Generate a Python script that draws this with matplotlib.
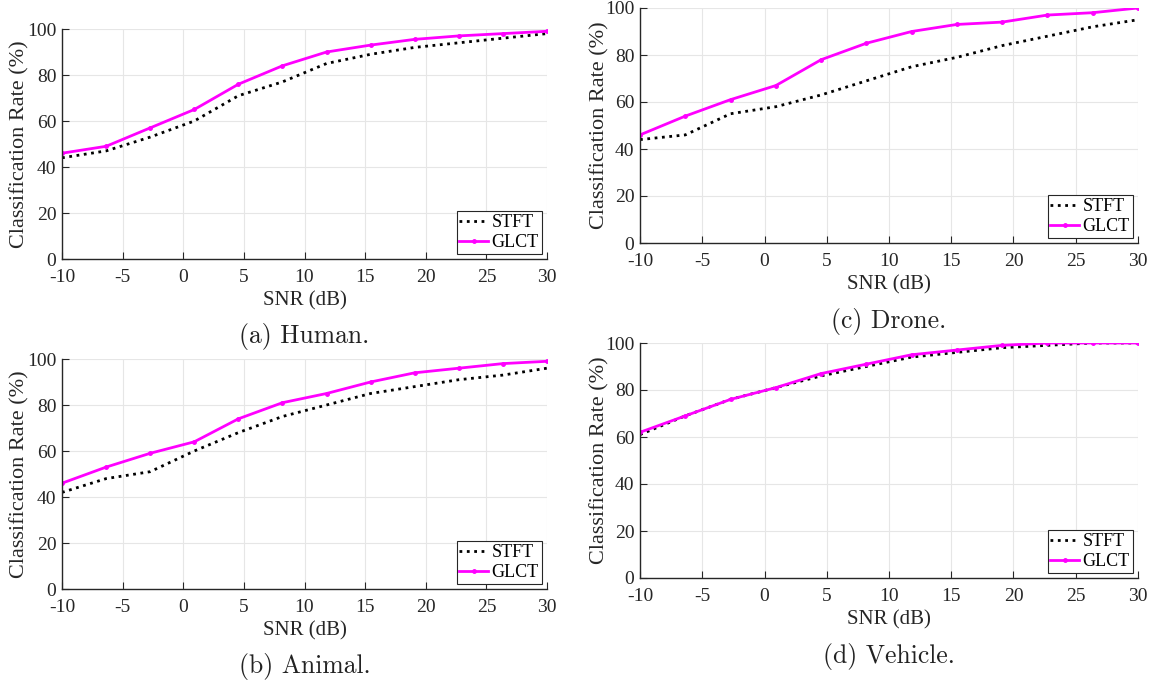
import numpy as np
import matplotlib.pyplot as plt

# SNR grid (dB)
snr = [-10, -6.36, -2.73, 0.91, 4.55, 8.18, 11.82, 15.45, 19.09, 22.73, 26.36, 30]

human_stft = [44, 47, 53, 60, 71, 77, 85, 89, 92, 94, 96, 98]
human_glct = [46, 49, 57, 65, 76, 84, 90, 93, 95.5, 97, 98, 99]

animal_stft = [42, 48, 51, 60, 68, 75, 80, 85, 88, 91, 93, 96]
animal_glct = [46, 53, 59, 64, 74, 81, 85, 90, 94, 96, 98, 99]

drone_stft = [44, 46, 55, 58, 63, 69, 75, 79, 84, 88, 92, 95]
drone_glct = [46, 54, 61, 67, 78, 85, 90, 93, 94, 97, 98, 100]

vehicle_stft = [61, 69, 76, 81, 86, 90, 94, 96, 98, 99, 100, 100]
vehicle_glct = [62, 69, 76, 81, 87, 91, 95, 97, 99, 100, 100, 100]

xticks = [-10, -5, 0, 5, 10, 15, 20, 25, 30]
yticks = [0, 20, 40, 60, 80, 100]

plt.rcParams['font.family'] = ['Liberation Serif', 'DejaVu Serif']
plt.rcParams['axes.unicode_minus'] = False

W, H = 1153, 682
fig = plt.figure(figsize=(W / 100, H / 100), dpi=100)


def box(x0, x1, ytop, ybot):
    return [x0 / W, 1 - ybot / H, (x1 - x0) / W, (ybot - ytop) / H]


panels = [
    (box(62, 547, 29, 259), human_stft, human_glct, '(a) Human.', -0.068),
    (box(62, 547, 359, 589), animal_stft, animal_glct, '(b) Animal.', -0.068),
    (box(640, 1138, 8, 243), drone_stft, drone_glct, '(c) Drone.', -0.062),
    (box(640, 1138, 343, 578), vehicle_stft, vehicle_glct, '(d) Vehicle.', -0.062),
]

for rect, stft, glct, caption, ylx in panels:
    ax = fig.add_axes(rect)
    ax.plot(snr, stft, ':', color='black', lw=2, label='STFT')
    ax.plot(snr, glct, '-', color='#ff00ff', lw=2, marker='.', ms=5, label='GLCT')
    ax.set_xlim(-10, 30)
    ax.set_ylim(0, 100)
    ax.set_xticks(xticks)
    ax.set_yticks(yticks)
    ax.grid(True, color='#e6e6e6', lw=0.8)
    ax.set_axisbelow(True)
    for s in ['top', 'right']:
        ax.spines[s].set_visible(False)
    for s in ['left', 'bottom']:
        ax.spines[s].set_color('#262626')
        ax.spines[s].set_linewidth(1.0)
    ax.tick_params(direction='in', length=5, width=0.8, color='#262626',
                   labelsize=14, labelcolor='#262626')
    ax.tick_params(axis='x', pad=7)
    ax.tick_params(axis='y', pad=4)
    ax.set_xlabel('SNR (dB)', fontsize=15, color='#262626', labelpad=4)
    ax.set_ylabel('Classification Rate (%)', fontsize=16, color='#262626')
    ax.yaxis.set_label_coords(ylx, 0.5)
    leg = ax.legend(loc='lower right', fontsize=13, fancybox=False, framealpha=1,
                    edgecolor='#262626', handlelength=1.6, handletextpad=0.2,
                    borderpad=0.15, labelspacing=0.15, borderaxespad=0.3)
    leg.get_frame().set_linewidth(0.8)
    ax.text(0.5, -0.335, caption, transform=ax.transAxes, ha='center', va='center',
            fontsize=18.5, family='cmr10', color='#222222')

fig.savefig('out.png', dpi=100)
